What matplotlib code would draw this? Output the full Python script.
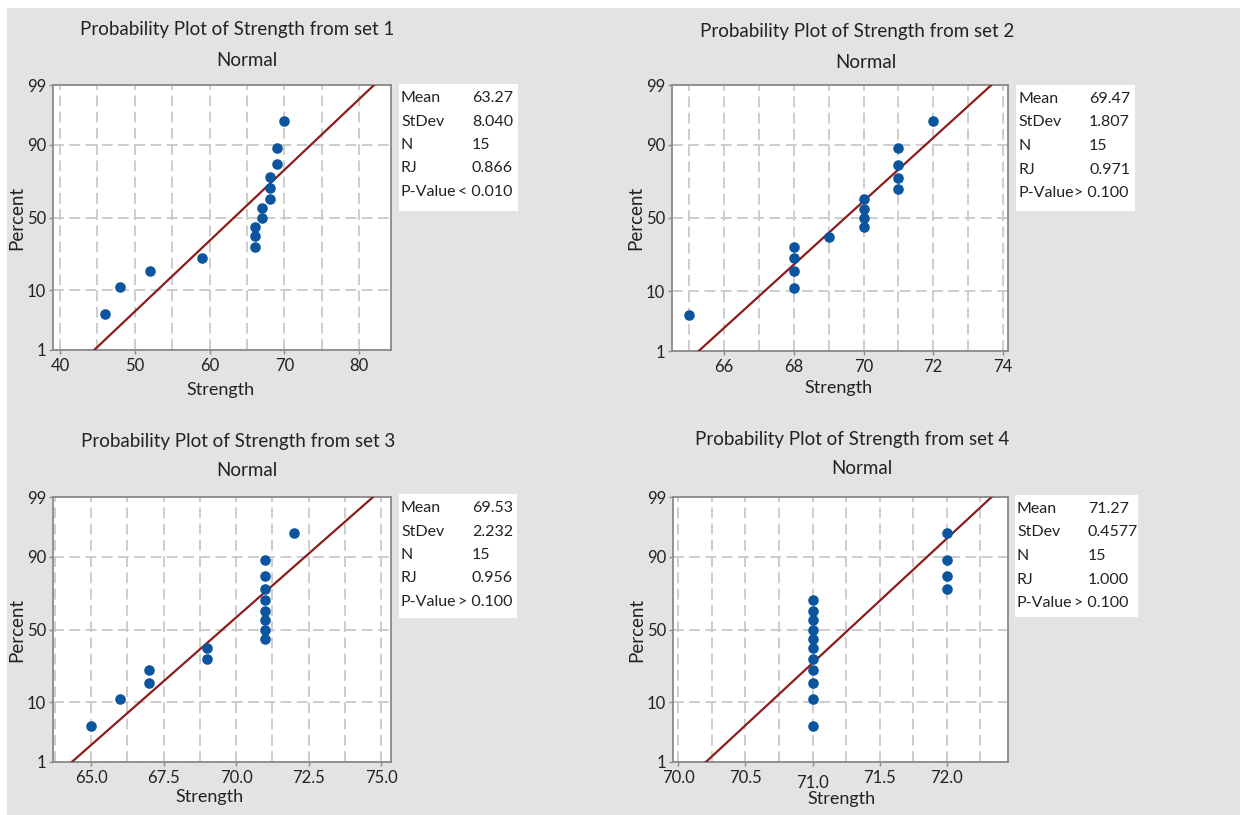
import matplotlib
matplotlib.use("Agg")
import matplotlib.pyplot as plt
import numpy as np
from statistics import NormalDist
from matplotlib.patches import Rectangle
from matplotlib.ticker import MultipleLocator

W, H = 1240, 815

# data
strength1 = [46, 48, 52, 59, 66, 66, 66, 67, 67, 68, 68, 68, 69, 69, 70]
strength2 = [65, 68, 68, 68, 68, 69, 70, 70, 70, 70, 71, 71, 71, 71, 72]
strength3 = [65, 66, 67, 67, 69, 69, 71, 71, 71, 71, 71, 71, 71, 71, 72]
strength4 = [71, 71, 71, 71, 71, 71, 71, 71, 71, 71, 71, 72, 72, 72, 72]
percent = [4.5, 11.0, 17.5, 24.0, 30.5, 37.0, 43.5, 50.0, 56.5, 63.0, 69.5, 76.0, 82.5, 89.0, 95.5]

means = [63.27, 69.47, 69.53, 71.27]
stdevs = [8.040, 1.807, 2.232, 0.4577]
stdev_txt = ["8.040", "1.807", "2.232", "0.4577"]
n_txt = ["15", "15", "15", "15"]
rj_txt = ["0.866", "0.971", "0.956", "1.000"]
pval_txt = ["< 0.010", "> 0.100", "> 0.100", "> 0.100"]

xlims = [(39.06, 84.24), (64.5, 74.15), (63.69, 75.34), (69.96, 72.457)]
xticks = [[40, 50, 60, 70, 80], [66, 68, 70, 72, 74],
          [65.0, 67.5, 70.0, 72.5, 75.0], [70.0, 70.5, 71.0, 71.5, 72.0]]
xtick_fmt = ["{:.0f}", "{:.0f}", "{:.1f}", "{:.1f}"]
grid_step = [5, 1, 1.25, 0.25]
yticks = [1, 10, 50, 90, 99]

sets = [strength1, strength2, strength3, strength4]

_nd = NormalDist()
_ppf = np.vectorize(lambda v: _nd.inv_cdf(v / 100.0), otypes=[float])
_cdf = np.vectorize(lambda v: _nd.cdf(v) * 100.0, otypes=[float])


def p_to_z(p):
    p = np.clip(np.asarray(p, float), 1e-6, 100 - 1e-6)
    return _ppf(p)


def z_to_p(z):
    return _cdf(np.asarray(z, float))


plt.rcParams['font.family'] = ['Lato', 'DejaVu Sans']
BG = '#e3e3e3'
BLUE = '#0b559f'
RED = '#8c1c1c'
GRID = '#c9c9c9'
SPINE = '#8a8a8a'
TXT = '#222222'

fig = plt.figure(figsize=(W / 100, H / 100), dpi=100, facecolor='white')
fig.add_artist(Rectangle((7 / W, 0), 1, 1 - 8 / H, transform=fig.transFigure,
                         facecolor=BG, edgecolor='none', zorder=-10))


def fx(x):
    return x / W


def fy(y):
    return 1 - y / H


# panel layout in pixels: axes rect (left, top, right, bottom), title centre, xlabel centre, stats box
axes_px = [(53, 85, 391, 350), (672, 85, 1008, 351), (53, 497, 391, 762), (673, 497, 1008, 762)]
title_px = [(237, 30, 247, 60), (857, 32, 866, 62), (238, 442, 247, 470), (852, 439, 862, 468)]
xlabel_px = [(220, 390), (838, 388), (209, 797), (841, 799)]
box_px = [(399, 84, 518, 211), (1016, 85, 1135, 211), (399, 494, 517, 618), (1015, 495, 1138, 617)]

for i in range(4):
    l, t, r, b = axes_px[i]
    ax = fig.add_axes([fx(l), fy(b), (r - l) / W, (b - t) / H])
    ax.set_facecolor('white')
    ax.set_yscale('function', functions=(p_to_z, z_to_p))
    ax.set_ylim(1, 99)
    ax.set_xlim(*xlims[i])

    ax.set_yticks(yticks)
    ax.set_yticklabels([str(v) for v in yticks])
    ax.yaxis.set_minor_locator(plt.NullLocator())
    ax.set_xticks(xticks[i])
    ax.set_xticklabels([xtick_fmt[i].format(v) for v in xticks[i]])
    ax.xaxis.set_minor_locator(MultipleLocator(grid_step[i]))

    ax.tick_params(axis='both', which='major', length=3, width=1, color=SPINE,
                   labelsize=12, labelcolor=TXT, pad=2)
    ax.tick_params(axis='x', which='major', pad=3)
    ax.tick_params(axis='x', which='minor', length=0)
    for s in ax.spines.values():
        s.set_color(SPINE)
        s.set_linewidth(1.3)

    ax.grid(True, axis='x', which='both', color=GRID, linestyle=(0, (6, 3)), linewidth=1.3)
    ax.grid(True, axis='y', which='major', color=GRID, linestyle=(0, (6, 3)), linewidth=1.3)
    ax.set_axisbelow(True)

    # fitted normal line between 1 and 99 percent
    fit = NormalDist(means[i], stdevs[i])
    p_line = [1, 99]
    x_line = [fit.inv_cdf(p / 100) for p in p_line]
    ax.plot(x_line, p_line, color=RED, linewidth=1.6, zorder=3, clip_on=True)

    ax.plot(sets[i], percent, linestyle='none', marker='o', markersize=6.6,
            color=BLUE, markeredgecolor=BLUE, zorder=4, clip_on=False)

    if i == 3:
        ax.xaxis.get_major_ticks()[2].set_pad(6)

    # titles and axis labels
    tx1, ty1, tx2, ty2 = title_px[i]
    fig.text(fx(tx1), fy(ty1), "Probability Plot of Strength from set %d" % (i + 1),
             ha='center', va='center', fontsize=13.5, color=TXT)
    fig.text(fx(tx2), fy(ty2), "Normal", ha='center', va='center', fontsize=13.5, color=TXT)
    lx, ly = xlabel_px[i]
    fig.text(fx(lx), fy(ly), "Strength", ha='center', va='center', fontsize=13, color=TXT)
    fig.text(fx(l - 36), fy((t + b) / 2), "Percent", ha='center', va='center',
             rotation=90, fontsize=13.5, color=TXT)

    # stats box
    bl, bt, br, bb = box_px[i]
    fig.add_artist(Rectangle((fx(bl), fy(bb)), (br - bl) / W, (bb - bt) / H,
                             transform=fig.transFigure, facecolor='white',
                             edgecolor='none', zorder=1))
    rows = [("Mean", "%.2f" % means[i]), ("StDev", stdev_txt[i]), ("N", n_txt[i]),
            ("RJ", rj_txt[i])]
    for k, (lab, val) in enumerate(rows):
        yy = bt + 14 + k * 23.5
        fig.text(fx(bl + 2), fy(yy), lab, ha='left', va='center', fontsize=11.5, color=TXT, zorder=2)
        fig.text(fx(bl + 73), fy(yy), val, ha='left', va='center', fontsize=11.5, color=TXT, zorder=2)
    yy = bt + 14 + 4 * 23.5
    fig.text(fx(bl + 2), fy(yy), "P-Value", ha='left', va='center', fontsize=11.5, color=TXT, zorder=2)
    fig.text(fx(bl + 113), fy(yy), pval_txt[i], ha='right', va='center', fontsize=11.5, color=TXT, zorder=2)

fig.savefig("out.png", dpi=100, facecolor=fig.get_facecolor())
